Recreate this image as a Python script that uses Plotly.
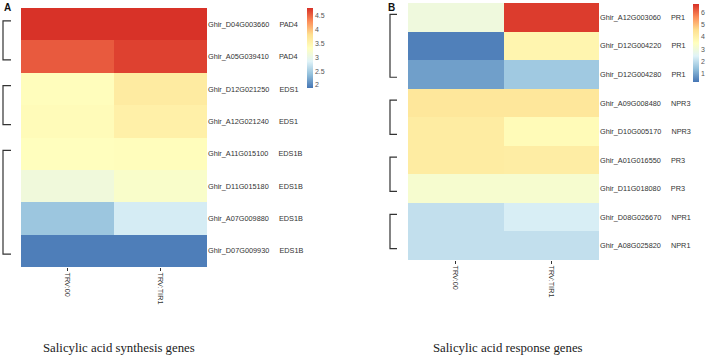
import plotly.graph_objects as go

W, H = 708, 357

conditions = ["TRV:00", "TRV:TIR1"]

# Panel A: salicylic acid synthesis genes
genes_a = ["Ghir_D04G003660", "Ghir_A05G039410", "Ghir_D12G021250", "Ghir_A12G021240",
           "Ghir_A11G015100", "Ghir_D11G015180", "Ghir_A07G009880", "Ghir_D07G009930"]
names_a = ["PAD4", "PAD4", "EDS1", "EDS1", "EDS1B", "EDS1B", "EDS1B", "EDS1B"]
trv00_a = [4.78, 4.57, 3.37, 3.40, 3.35, 3.10, 2.44, 1.95]
tir1_a = [4.78, 4.70, 3.65, 3.58, 3.37, 3.25, 2.79, 1.95]
groups_a = [(0, 1), (2, 3), (4, 7)]
ticks_a = [2, 2.5, 3, 3.5, 4, 4.5]

# Panel B: salicylic acid response genes
genes_b = ["Ghir_A12G003060", "Ghir_D12G004220", "Ghir_D12G004280", "Ghir_A09G008480",
           "Ghir_D10G005170", "Ghir_A01G016550", "Ghir_D11G018080", "Ghir_D08G026670",
           "Ghir_A08G025820"]
names_b = ["PR1", "PR1", "PR1", "NPR3", "NPR3", "PR3", "PR3", "NPR1", "NPR1"]
trv00_b = [2.95, 0.50, 0.95, 4.30, 4.15, 4.15, 3.20, 2.05, 2.05]
tir1_b = [6.52, 3.85, 1.60, 4.30, 3.65, 4.10, 3.20, 2.35, 2.05]
groups_b = [(0, 2), (3, 4), (5, 6), (7, 8)]
ticks_b = [1, 2, 3, 4, 5, 6]

captions = ["Salicylic acid synthesis genes", "Salicylic acid response genes"]

scale = [[0, "#4575B4"], [1/6, "#91BFDB"], [2/6, "#E0F3F8"], [3/6, "#FFFFBF"],
         [4/6, "#FEE090"], [5/6, "#FC8D59"], [1, "#D73027"]]

def px(x):
    return x / W

def py(y):
    return 1 - y / H

NB = "\u00a0"
tickfont = dict(family="Liberation Sans, Arial", size=7.3, color="#333")

fig = go.Figure()

def add_panel(idx, genes, names, v0, v1, zmin, zmax, ticks, cb_x, cb_top, cb_len):
    z = [[a, b] for a, b in zip(v0, v1)]
    rows = list(range(len(genes)))
    sfx = "" if idx == 1 else str(idx)
    fig.add_trace(go.Heatmap(
        z=z, x=conditions, y=rows, colorscale=scale, zmin=zmin, zmax=zmax,
        xaxis="x" + sfx, yaxis="y" + sfx, hoverinfo="skip",
        colorbar=dict(x=px(cb_x), xanchor="left", y=py(cb_top), yanchor="top",
                      len=cb_len, lenmode="pixels", thickness=6, thicknessmode="pixels",
                      outlinewidth=0, xpad=0, ypad=0, tickvals=ticks,
                      ticks="", tickfont=dict(family="Liberation Sans, Arial", size=7, color="#555")),
    ))
    labels = [g + NB * 5 + n for g, n in zip(genes, names)]
    return rows, labels

rows_a, labels_a = add_panel(1, genes_a, names_a, trv00_a, tir1_a, 1.89, 4.79, ticks_a, 307, 8, 80)
rows_b, labels_b = add_panel(2, genes_b, names_b, trv00_b, tir1_b, 0.35, 6.65, ticks_b, 693, 4, 78)

xa = dict(tickangle=90, ticks="outside", ticklen=3, tickwidth=1, tickcolor="#333",
          tickfont=tickfont, showgrid=False, zeroline=False, showline=False)
fig.update_layout(
    width=W, height=H, margin=dict(l=0, r=0, t=0, b=0, autoexpand=False),
    paper_bgcolor="white", plot_bgcolor="white",
    xaxis=dict(domain=[px(21), px(207)], anchor="y", **xa),
    yaxis=dict(domain=[py(267), py(8)], anchor="x", side="right", autorange="reversed",
               tickvals=rows_a, ticktext=labels_a, tickfont=tickfont, ticks="",
               showgrid=False, zeroline=False),
    xaxis2=dict(domain=[px(408), px(599)], anchor="y2", **xa),
    yaxis2=dict(domain=[py(260), py(3)], anchor="x2", side="right", autorange="reversed",
                tickvals=rows_b, ticktext=labels_b, tickfont=tickfont, ticks="",
                showgrid=False, zeroline=False),
    showlegend=False,
)

def bracket(groups, yref, xv, xt):
    for a, b in groups:
        y0, y1 = a - 0.1, b + 0.1
        fig.add_shape(type="path", xref="paper", yref=yref,
                      path=f"M {px(xt)},{y0} L {px(xv)},{y0} L {px(xv)},{y1} L {px(xt)},{y1}",
                      line=dict(color="#333", width=1.2))

bracket(groups_a, "y", 3, 11)
bracket(groups_b, "y2", 390, 397)

for txt, xc in zip(captions, [119, 508]):
    fig.add_annotation(text=txt, x=px(xc), y=py(348), xref="paper", yref="paper",
                       showarrow=False, xanchor="center", yanchor="middle",
                       font=dict(family="Liberation Serif, Times New Roman", size=12.8, color="#222"))

for letter, xl in zip(["A", "B"], [2, 386]):
    fig.add_annotation(text=f"<b>{letter}</b>", x=px(xl), y=py(0), xref="paper", yref="paper",
                       showarrow=False, xanchor="left", yanchor="top",
                       font=dict(family="Liberation Sans, Arial", size=10, color="#111"))

fig.write_html("out.html", config={"displayModeBar": False},
               post_script="document.body.style.margin='0';document.body.style.overflow='hidden';")
